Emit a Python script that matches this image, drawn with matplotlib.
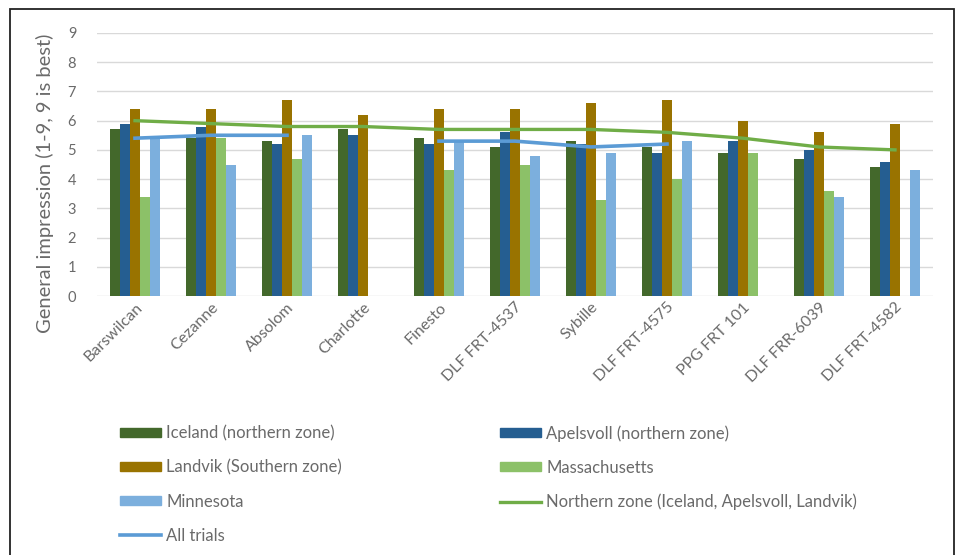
import numpy as np
import matplotlib
matplotlib.use("Agg")
import matplotlib.pyplot as plt
from matplotlib.patches import Rectangle
from matplotlib.lines import Line2D

plt.rcParams['font.family'] = ['Lato', 'DejaVu Sans']

# varieties
cultivars = ["Barswilcan", "Cezanne", "Absolom", "Charlotte", "Finesto", "DLF FRT-4537",
             "Sybille", "DLF FRT-4575", "PPG FRT 101", "DLF FRR-6039", "DLF FRT-4582"]

nan = np.nan
iceland = [5.7, 5.4, 5.3, 5.7, 5.4, 5.1, 5.3, 5.1, 4.9, 4.7, 4.4]
apelsvoll = [5.9, 5.8, 5.2, 5.5, 5.2, 5.6, 5.2, 4.9, 5.3, 5.0, 4.6]
landvik = [6.4, 6.4, 6.7, 6.2, 6.4, 6.4, 6.6, 6.7, 6.0, 5.6, 5.9]
massachusetts = [3.4, 5.4, 4.7, nan, 4.3, 4.5, 3.3, 4.0, 4.9, 3.6, nan]
minnesota = [5.4, 4.5, 5.5, nan, 5.3, 4.8, 4.9, 5.3, nan, 3.4, 4.3]
northern_zone = [6.0, 5.9, 5.8, 5.8, 5.7, 5.7, 5.7, 5.6, 5.4, 5.1, 5.0]
all_trials = [5.4, 5.5, 5.5, nan, 5.3, 5.3, 5.1, 5.2, nan, nan, nan]

bar_series = [
    ("Iceland (northern zone)", iceland, "#43682B"),
    ("Apelsvoll (northern zone)", apelsvoll, "#255E91"),
    ("Landvik (Southern zone)", landvik, "#997300"),
    ("Massachusetts", massachusetts, "#8CC168"),
    ("Minnesota", minnesota, "#7CAFDD"),
]

txt = "#6a6a6a"
fig = plt.figure(figsize=(9.6, 5.55), dpi=100)
ax = fig.add_axes([97 / 960, 1 - 296 / 555, (933 - 97) / 960, (296 - 33) / 555])

x = np.arange(len(cultivars))
w = 0.132
for i, (name, vals, col) in enumerate(bar_series):
    ax.bar(x + (i - 2) * w, vals, width=w, color=col, zorder=2)

ax.plot(x, northern_zone, color="#70AD47", lw=2.4, zorder=3)
ax.plot(x, all_trials, color="#5B9BD5", lw=2.6, zorder=4)

ax.set_xlim(-0.5, len(cultivars) - 0.5)
ax.set_ylim(0, 9)
ax.set_yticks(range(0, 10))
ax.grid(axis="y", color="#D9D9D9", lw=1, zorder=0)
for s in ax.spines.values():
    s.set_visible(False)
ax.tick_params(length=0, colors=txt, labelsize=10.5)
ax.tick_params(axis="y", pad=15)
ax.tick_params(axis="x", pad=3)
ax.set_xticks(x)
ax.set_xticklabels(cultivars, rotation=45, ha="right", rotation_mode="anchor", fontsize=11.5)
ax.set_ylabel("General impression (1-9, 9 is best)", color=txt, fontsize=14.5)
ax.yaxis.set_label_coords(-0.052, 0.43)

# legend in two columns, laid out row by row like the original
h = {}
for name, vals, col in bar_series:
    h[name] = Rectangle((0, 0), 1, 1, color=col)
h["Northern zone (Iceland, Apelsvoll, Landvik)"] = Line2D([], [], color="#70AD47", lw=2.4)
h["All trials"] = Line2D([], [], color="#5B9BD5", lw=2.6)

col1 = ["Iceland (northern zone)", "Landvik (Southern zone)", "Minnesota", "All trials"]
col2 = ["Apelsvoll (northern zone)", "Massachusetts", "Northern zone (Iceland, Apelsvoll, Landvik)"]
kw = dict(frameon=False, fontsize=12, labelcolor=txt, handlelength=2.45, handleheight=0.45,
          handletextpad=0.3, labelspacing=1.08, borderpad=0, loc="upper left")
fig.legend([h[k] for k in col1], col1, bbox_to_anchor=(112 / 960, 1 - 417 / 555), **kw)
fig.legend([h[k] for k in col2], col2, bbox_to_anchor=(492 / 960, 1 - 417 / 555), **kw)

# outer frame
fig.patches.append(Rectangle((10 / 960, -0.05), 944 / 960, 1.05 - 9 / 555, transform=fig.transFigure,
                             fill=False, ec="#222222", lw=1.3))

fig.savefig("out.png", dpi=100)
